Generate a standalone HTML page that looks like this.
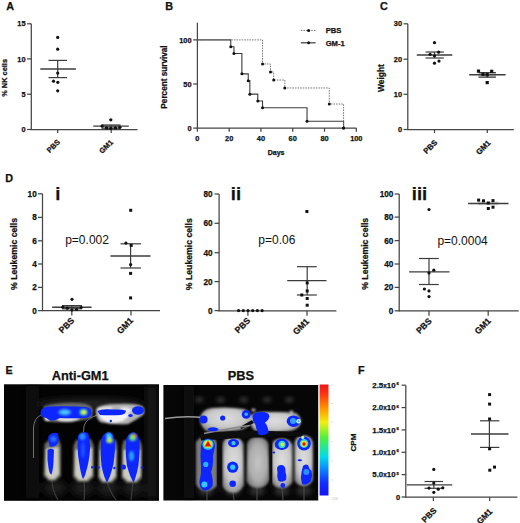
<!DOCTYPE html>
<html><head><meta charset="utf-8"><style>
html,body{margin:0;padding:0;background:#fff;}
svg{display:block;font-family:"Liberation Sans",sans-serif;}
text[font-weight="bold"]{stroke:#111;stroke-width:0.25px;}
</style></head><body>
<svg width="520" height="523" viewBox="0 0 520 523">
<rect width="520" height="523" fill="#fff"/>
<text x="6.3" y="9.6" font-size="10.8" font-weight="bold" fill="#111">A</text>
<line x1="31.3" y1="23.8" x2="31.3" y2="130.05" stroke="#454545" stroke-width="1.25" />
<line x1="27.1" y1="23.8" x2="31.3" y2="23.8" stroke="#454545" stroke-width="1.25" />
<text x="25.5" y="26.464000000000002" font-size="7.4" text-anchor="end" font-weight="bold" fill="#111" >15</text>
<line x1="27.1" y1="58.9" x2="31.3" y2="58.9" stroke="#454545" stroke-width="1.25" />
<text x="25.5" y="61.564" font-size="7.4" text-anchor="end" font-weight="bold" fill="#111" >10</text>
<line x1="27.1" y1="94.2" x2="31.3" y2="94.2" stroke="#454545" stroke-width="1.25" />
<text x="25.5" y="96.864" font-size="7.4" text-anchor="end" font-weight="bold" fill="#111" >5</text>
<line x1="27.1" y1="129.5" x2="31.3" y2="129.5" stroke="#454545" stroke-width="1.25" />
<text x="25.5" y="132.164" font-size="7.4" text-anchor="end" font-weight="bold" fill="#111" >0</text>
<line x1="30.75" y1="129.5" x2="137.5" y2="129.5" stroke="#454545" stroke-width="1.25" />
<line x1="57.7" y1="129.5" x2="57.7" y2="133.1" stroke="#454545" stroke-width="1.25" />
<line x1="111.2" y1="129.5" x2="111.2" y2="133.1" stroke="#454545" stroke-width="1.25" />
<text transform="translate(4.6,77.9) rotate(-90)" font-size="7.4" text-anchor="middle" font-weight="bold" fill="#111" dy="2.66">% NK cells</text>
<text transform="translate(53.2,146.0) rotate(-45)" font-size="7.4" text-anchor="middle" font-weight="bold" fill="#111" dy="2.66">PBS</text>
<text transform="translate(106.0,146.5) rotate(-45)" font-size="7.4" text-anchor="middle" font-weight="bold" fill="#111" dy="2.66">GM1</text>
<line x1="40.3" y1="69.0" x2="75.9" y2="69.0" stroke="#3c3c3c" stroke-width="1.35" />
<line x1="48.5" y1="60.4" x2="67.0" y2="60.4" stroke="#3c3c3c" stroke-width="1.2" />
<line x1="48.5" y1="77.6" x2="67.0" y2="77.6" stroke="#3c3c3c" stroke-width="1.2" />
<line x1="57.7" y1="60.4" x2="57.7" y2="77.6" stroke="#3c3c3c" stroke-width="1.2" />
<circle cx="57.7" cy="37.4" r="1.6" fill="#111"/>
<circle cx="57.7" cy="49.2" r="1.6" fill="#111"/>
<circle cx="57.7" cy="73.1" r="1.6" fill="#111"/>
<circle cx="53.5" cy="81.2" r="1.6" fill="#111"/>
<circle cx="57.8" cy="82.3" r="1.6" fill="#111"/>
<circle cx="57.7" cy="90.8" r="1.6" fill="#111"/>
<rect x="101.5" y="124.8" width="19" height="3.6" fill="#c4c4c4"/>
<line x1="93.2" y1="126.1" x2="128.8" y2="126.1" stroke="#3c3c3c" stroke-width="1.35" />
<line x1="101.5" y1="125.0" x2="120.5" y2="125.0" stroke="#3c3c3c" stroke-width="1.2" />
<line x1="101.5" y1="128.2" x2="120.5" y2="128.2" stroke="#3c3c3c" stroke-width="1.2" />
<line x1="111.0" y1="125.0" x2="111.0" y2="128.2" stroke="#3c3c3c" stroke-width="1.2" />
<circle cx="110.8" cy="119.8" r="1.65" fill="#111"/>
<circle cx="102.1" cy="126.1" r="1.65" fill="#111"/>
<circle cx="106.6" cy="127.9" r="1.65" fill="#111"/>
<circle cx="110.8" cy="128.3" r="1.65" fill="#111"/>
<circle cx="115.4" cy="127.9" r="1.65" fill="#111"/>
<circle cx="119.9" cy="127.3" r="1.65" fill="#111"/>
<text x="165.3" y="9.5" font-size="10.8" font-weight="bold" fill="#111">B</text>
<line x1="197.4" y1="22.7" x2="197.4" y2="128.65" stroke="#454545" stroke-width="1.25" />
<line x1="193.20000000000002" y1="39.89999999999999" x2="197.4" y2="39.89999999999999" stroke="#454545" stroke-width="1.25" />
<text x="191.60000000000002" y="42.56399999999999" font-size="7.4" text-anchor="end" font-weight="bold" fill="#111" >100</text>
<line x1="193.20000000000002" y1="84.0" x2="197.4" y2="84.0" stroke="#454545" stroke-width="1.25" />
<text x="191.60000000000002" y="86.664" font-size="7.4" text-anchor="end" font-weight="bold" fill="#111" >50</text>
<line x1="193.20000000000002" y1="128.1" x2="197.4" y2="128.1" stroke="#454545" stroke-width="1.25" />
<text x="191.60000000000002" y="130.76399999999998" font-size="7.4" text-anchor="end" font-weight="bold" fill="#111" >0</text>
<line x1="196.85" y1="128.1" x2="356.4" y2="128.1" stroke="#454545" stroke-width="1.25" />
<line x1="197.4" y1="128.1" x2="197.4" y2="131.7" stroke="#454545" stroke-width="1.25" />
<line x1="229.18" y1="128.1" x2="229.18" y2="131.7" stroke="#454545" stroke-width="1.25" />
<line x1="260.96000000000004" y1="128.1" x2="260.96000000000004" y2="131.7" stroke="#454545" stroke-width="1.25" />
<line x1="292.74" y1="128.1" x2="292.74" y2="131.7" stroke="#454545" stroke-width="1.25" />
<line x1="324.52" y1="128.1" x2="324.52" y2="131.7" stroke="#454545" stroke-width="1.25" />
<line x1="356.3" y1="128.1" x2="356.3" y2="131.7" stroke="#454545" stroke-width="1.25" />
<text x="197.4" y="140.6" font-size="7.4" text-anchor="middle" font-weight="bold" fill="#111" >0</text>
<text x="229.18" y="140.6" font-size="7.4" text-anchor="middle" font-weight="bold" fill="#111" >20</text>
<text x="260.96000000000004" y="140.6" font-size="7.4" text-anchor="middle" font-weight="bold" fill="#111" >40</text>
<text x="292.74" y="140.6" font-size="7.4" text-anchor="middle" font-weight="bold" fill="#111" >60</text>
<text x="324.52" y="140.6" font-size="7.4" text-anchor="middle" font-weight="bold" fill="#111" >80</text>
<text x="356.3" y="140.6" font-size="7.4" text-anchor="middle" font-weight="bold" fill="#111" >100</text>
<text x="276.1" y="154.6" font-size="7.0" text-anchor="middle" font-weight="bold" fill="#111" >Days</text>
<text transform="translate(164.2,77.0) rotate(-90)" font-size="8.2" text-anchor="middle" font-weight="bold" fill="#111" dy="2.95">Percent survival</text>
<path d="M197.40,39.90 H230.77 V46.69 H233.95 V53.48 H241.89 V73.86 H248.25 V80.65 H249.84 V94.14 H257.78 V100.93 H262.55 V107.73 H307.04 V121.31 H343.59 V128.10" fill="none" stroke="#3c3c3c" stroke-width="1.1"/>
<path d="M197.40,39.90 H262.55 V63.98 H270.49 V72.00 H273.67 V80.03 H284.80 V87.97 H329.29 V104.02 H343.59 V128.10" fill="none" stroke="#7a7a7a" stroke-width="1.0" stroke-dasharray="1.6,1.0"/>
<circle cx="230.769" cy="46.6914" r="1.5" fill="#111"/>
<circle cx="233.947" cy="53.4828" r="1.5" fill="#111"/>
<circle cx="241.892" cy="73.857" r="1.5" fill="#111"/>
<circle cx="248.248" cy="80.6484" r="1.5" fill="#111"/>
<circle cx="249.837" cy="94.143" r="1.5" fill="#111"/>
<circle cx="257.782" cy="100.9344" r="1.5" fill="#111"/>
<circle cx="262.549" cy="107.72579999999999" r="1.5" fill="#111"/>
<circle cx="307.041" cy="121.3086" r="1.5" fill="#111"/>
<circle cx="343.58799999999997" cy="128.1" r="1.5" fill="#111"/>
<circle cx="262.549" cy="63.978599999999986" r="1.5" fill="#111"/>
<circle cx="270.494" cy="72.00479999999999" r="1.5" fill="#111"/>
<circle cx="273.672" cy="80.03099999999999" r="1.5" fill="#111"/>
<circle cx="284.795" cy="87.969" r="1.5" fill="#111"/>
<circle cx="329.28700000000003" cy="104.0214" r="1.5" fill="#111"/>
<circle cx="343.58799999999997" cy="128.1" r="1.5" fill="#111"/>
<line x1="300.8" y1="30.4" x2="315.6" y2="30.4" stroke="#7a7a7a" stroke-width="1" stroke-dasharray="1.6,1.0"/>
<circle cx="308.6" cy="30.4" r="1.5" fill="#111"/>
<line x1="300.8" y1="42.8" x2="315.6" y2="42.8" stroke="#3c3c3c" stroke-width="1.2" />
<circle cx="308.6" cy="42.8" r="1.5" fill="#111"/>
<text x="325.7" y="33.2" font-size="7.6" text-anchor="start" font-weight="bold" fill="#111" >PBS</text>
<text x="325.7" y="45.5" font-size="7.6" text-anchor="start" font-weight="bold" fill="#111" >GM-1</text>
<text x="379.9" y="9.7" font-size="10.8" font-weight="bold" fill="#111">C</text>
<line x1="407.8" y1="23.8" x2="407.8" y2="130.05" stroke="#454545" stroke-width="1.25" />
<line x1="403.6" y1="23.8" x2="407.8" y2="23.8" stroke="#454545" stroke-width="1.25" />
<text x="402.0" y="26.464000000000002" font-size="7.4" text-anchor="end" font-weight="bold" fill="#111" >30</text>
<line x1="403.6" y1="59.2" x2="407.8" y2="59.2" stroke="#454545" stroke-width="1.25" />
<text x="402.0" y="61.864000000000004" font-size="7.4" text-anchor="end" font-weight="bold" fill="#111" >20</text>
<line x1="403.6" y1="94.3" x2="407.8" y2="94.3" stroke="#454545" stroke-width="1.25" />
<text x="402.0" y="96.964" font-size="7.4" text-anchor="end" font-weight="bold" fill="#111" >10</text>
<line x1="403.6" y1="129.5" x2="407.8" y2="129.5" stroke="#454545" stroke-width="1.25" />
<text x="402.0" y="132.164" font-size="7.4" text-anchor="end" font-weight="bold" fill="#111" >0</text>
<line x1="407.25" y1="129.5" x2="513.8" y2="129.5" stroke="#454545" stroke-width="1.25" />
<line x1="434.5" y1="129.5" x2="434.5" y2="133.1" stroke="#454545" stroke-width="1.25" />
<line x1="487.3" y1="129.5" x2="487.3" y2="133.1" stroke="#454545" stroke-width="1.25" />
<text transform="translate(380.8,78.1) rotate(-90)" font-size="8.4" text-anchor="middle" font-weight="bold" fill="#111" dy="3.02">Weight</text>
<text transform="translate(430.2,146.7) rotate(-45)" font-size="7.8" text-anchor="middle" font-weight="bold" fill="#111" dy="2.81">PBS</text>
<text transform="translate(483.2,147.3) rotate(-45)" font-size="7.8" text-anchor="middle" font-weight="bold" fill="#111" dy="2.81">GM1</text>
<line x1="416.8" y1="55.0" x2="452.3" y2="55.0" stroke="#3c3c3c" stroke-width="1.35" />
<line x1="425.6" y1="52.0" x2="443.8" y2="52.0" stroke="#3c3c3c" stroke-width="1.2" />
<line x1="425.6" y1="58.0" x2="443.8" y2="58.0" stroke="#3c3c3c" stroke-width="1.2" />
<line x1="434.5" y1="52.0" x2="434.5" y2="58.0" stroke="#3c3c3c" stroke-width="1.2" />
<circle cx="434.5" cy="42.7" r="1.6" fill="#111"/>
<circle cx="430.1" cy="54.3" r="1.6" fill="#111"/>
<circle cx="438.6" cy="52.2" r="1.6" fill="#111"/>
<circle cx="434.5" cy="55.8" r="1.6" fill="#111"/>
<circle cx="434.5" cy="63.2" r="1.6" fill="#111"/>
<circle cx="439" cy="61.1" r="1.6" fill="#111"/>
<rect x="478.5" y="72.6" width="17.4" height="4.4" fill="#cdcdcd"/>
<line x1="469.2" y1="74.7" x2="505.6" y2="74.7" stroke="#3c3c3c" stroke-width="1.35" />
<line x1="478.5" y1="72.6" x2="495.9" y2="72.6" stroke="#3c3c3c" stroke-width="1.2" />
<line x1="478.5" y1="77.2" x2="495.9" y2="77.2" stroke="#3c3c3c" stroke-width="1.2" />
<line x1="487.2" y1="72.6" x2="487.2" y2="77.2" stroke="#3c3c3c" stroke-width="1.2" />
<rect x="476.90" y="69.50" width="3.2" height="3.2" fill="#111"/>
<rect x="481.40" y="72.70" width="3.2" height="3.2" fill="#111"/>
<rect x="485.60" y="73.10" width="3.2" height="3.2" fill="#111"/>
<rect x="490.10" y="69.70" width="3.2" height="3.2" fill="#111"/>
<rect x="485.60" y="81.00" width="3.2" height="3.2" fill="#111"/>
<text x="5.3" y="181.6" font-size="10.8" font-weight="bold" fill="#111">D</text>
<line x1="42.5" y1="193.8" x2="42.5" y2="311.15000000000003" stroke="#454545" stroke-width="1.25" />
<line x1="38.0" y1="193.8" x2="42.5" y2="193.8" stroke="#454545" stroke-width="1.25" />
<text x="36.7" y="196.752" font-size="8.2" text-anchor="end" font-weight="bold" fill="#111" >10</text>
<line x1="38.0" y1="217.4" x2="42.5" y2="217.4" stroke="#454545" stroke-width="1.25" />
<text x="36.7" y="220.352" font-size="8.2" text-anchor="end" font-weight="bold" fill="#111" >8</text>
<line x1="38.0" y1="240.8" x2="42.5" y2="240.8" stroke="#454545" stroke-width="1.25" />
<text x="36.7" y="243.752" font-size="8.2" text-anchor="end" font-weight="bold" fill="#111" >6</text>
<line x1="38.0" y1="264.0" x2="42.5" y2="264.0" stroke="#454545" stroke-width="1.25" />
<text x="36.7" y="266.952" font-size="8.2" text-anchor="end" font-weight="bold" fill="#111" >4</text>
<line x1="38.0" y1="287.4" x2="42.5" y2="287.4" stroke="#454545" stroke-width="1.25" />
<text x="36.7" y="290.352" font-size="8.2" text-anchor="end" font-weight="bold" fill="#111" >2</text>
<line x1="38.0" y1="310.6" x2="42.5" y2="310.6" stroke="#454545" stroke-width="1.25" />
<text x="36.7" y="313.552" font-size="8.2" text-anchor="end" font-weight="bold" fill="#111" >0</text>
<line x1="41.95" y1="310.6" x2="160.0" y2="310.6" stroke="#454545" stroke-width="1.25" />
<line x1="71.8" y1="310.6" x2="71.8" y2="315.6" stroke="#454545" stroke-width="1.25" />
<line x1="131.0" y1="310.6" x2="131.0" y2="315.6" stroke="#454545" stroke-width="1.25" />
<text x="55.2" y="199.5" font-size="18.5" font-weight="bold" fill="#111">i</text>
<text x="65.2" y="244.2" font-size="12.0" text-anchor="start" font-weight="normal" fill="#111" >p=0.002</text>
<text transform="translate(13.5,254.0) rotate(-90)" font-size="8.7" text-anchor="middle" font-weight="bold" fill="#111" dy="3.13">% Leukemic cells</text>
<text transform="translate(66.4,325.3) rotate(-45)" font-size="8.7" text-anchor="middle" font-weight="bold" fill="#111" dy="3.13">PBS</text>
<text transform="translate(124.9,325.6) rotate(-45)" font-size="8.7" text-anchor="middle" font-weight="bold" fill="#111" dy="3.13">GM1</text>
<rect x="62" y="305.4" width="20" height="3.4" fill="#c4c4c4"/>
<line x1="52.2" y1="307.2" x2="91.6" y2="307.2" stroke="#3c3c3c" stroke-width="1.35" />
<line x1="62" y1="305.6" x2="82" y2="305.6" stroke="#3c3c3c" stroke-width="1.2" />
<line x1="62" y1="308.8" x2="82" y2="308.8" stroke="#3c3c3c" stroke-width="1.2" />
<line x1="71.9" y1="305.6" x2="71.9" y2="308.8" stroke="#3c3c3c" stroke-width="1.2" />
<circle cx="72.0" cy="299.3" r="1.6" fill="#111"/>
<circle cx="62.8" cy="307.2" r="1.6" fill="#111"/>
<circle cx="67.3" cy="308.2" r="1.6" fill="#111"/>
<circle cx="71.9" cy="310.0" r="1.6" fill="#111"/>
<circle cx="76.5" cy="309.5" r="1.6" fill="#111"/>
<circle cx="81.2" cy="307.5" r="1.6" fill="#111"/>
<line x1="110.5" y1="256.0" x2="150.5" y2="256.0" stroke="#3c3c3c" stroke-width="1.35" />
<line x1="120.5" y1="243.8" x2="141.0" y2="243.8" stroke="#3c3c3c" stroke-width="1.2" />
<line x1="120.5" y1="268.0" x2="141.0" y2="268.0" stroke="#3c3c3c" stroke-width="1.2" />
<line x1="130.6" y1="243.8" x2="130.6" y2="268.0" stroke="#3c3c3c" stroke-width="1.2" />
<rect x="129.20" y="208.80" width="3.0" height="3.0" fill="#111"/>
<circle cx="125.9" cy="243.1" r="1.6" fill="#111"/>
<rect x="129.70" y="243.90" width="3.0" height="3.0" fill="#111"/>
<circle cx="130.6" cy="264.6" r="1.6" fill="#111"/>
<rect x="129.10" y="271.90" width="3.0" height="3.0" fill="#111"/>
<rect x="129.10" y="296.40" width="3.0" height="3.0" fill="#111"/>
<line x1="219.1" y1="194.0" x2="219.1" y2="311.15000000000003" stroke="#454545" stroke-width="1.25" />
<line x1="214.6" y1="194.0" x2="219.1" y2="194.0" stroke="#454545" stroke-width="1.25" />
<text x="212.5" y="196.952" font-size="8.2" text-anchor="end" font-weight="bold" fill="#111" >80</text>
<line x1="214.6" y1="223.3" x2="219.1" y2="223.3" stroke="#454545" stroke-width="1.25" />
<text x="212.5" y="226.252" font-size="8.2" text-anchor="end" font-weight="bold" fill="#111" >60</text>
<line x1="214.6" y1="252.7" x2="219.1" y2="252.7" stroke="#454545" stroke-width="1.25" />
<text x="212.5" y="255.652" font-size="8.2" text-anchor="end" font-weight="bold" fill="#111" >40</text>
<line x1="214.6" y1="281.6" x2="219.1" y2="281.6" stroke="#454545" stroke-width="1.25" />
<text x="212.5" y="284.552" font-size="8.2" text-anchor="end" font-weight="bold" fill="#111" >20</text>
<line x1="214.6" y1="310.6" x2="219.1" y2="310.6" stroke="#454545" stroke-width="1.25" />
<text x="212.5" y="313.552" font-size="8.2" text-anchor="end" font-weight="bold" fill="#111" >0</text>
<line x1="218.54999999999998" y1="310.8" x2="336.4" y2="310.8" stroke="#454545" stroke-width="1.25" />
<line x1="247.9" y1="310.8" x2="247.9" y2="315.8" stroke="#454545" stroke-width="1.25" />
<line x1="307.0" y1="310.8" x2="307.0" y2="315.8" stroke="#454545" stroke-width="1.25" />
<text x="230.8" y="199.5" font-size="18.5" font-weight="bold" fill="#111">ii</text>
<text x="258.3" y="243.8" font-size="12.0" text-anchor="start" font-weight="normal" fill="#111" >p=0.06</text>
<text transform="translate(189.0,254.2) rotate(-90)" font-size="8.7" text-anchor="middle" font-weight="bold" fill="#111" dy="3.13">% Leukemic cells</text>
<text transform="translate(242.4,325.3) rotate(-45)" font-size="8.7" text-anchor="middle" font-weight="bold" fill="#111" dy="3.13">PBS</text>
<text transform="translate(300.9,326.4) rotate(-45)" font-size="8.7" text-anchor="middle" font-weight="bold" fill="#111" dy="3.13">GM1</text>
<circle cx="238.6" cy="310.6" r="1.6" fill="#111"/>
<circle cx="243.29999999999998" cy="310.6" r="1.6" fill="#111"/>
<circle cx="248.0" cy="310.6" r="1.6" fill="#111"/>
<circle cx="252.7" cy="310.6" r="1.6" fill="#111"/>
<circle cx="257.4" cy="310.6" r="1.6" fill="#111"/>
<circle cx="262.1" cy="310.6" r="1.6" fill="#111"/>
<line x1="287.2" y1="280.6" x2="326.5" y2="280.6" stroke="#3c3c3c" stroke-width="1.35" />
<line x1="296.9" y1="266.7" x2="316.8" y2="266.7" stroke="#3c3c3c" stroke-width="1.2" />
<line x1="296.9" y1="295.0" x2="316.8" y2="295.0" stroke="#3c3c3c" stroke-width="1.2" />
<line x1="307.2" y1="266.7" x2="307.2" y2="295.0" stroke="#3c3c3c" stroke-width="1.2" />
<rect x="305.40" y="210.00" width="3.0" height="3.0" fill="#111"/>
<rect x="305.70" y="281.40" width="3.0" height="3.0" fill="#111"/>
<rect x="305.70" y="289.50" width="3.0" height="3.0" fill="#111"/>
<rect x="300.30" y="293.50" width="3.0" height="3.0" fill="#111"/>
<rect x="305.70" y="297.00" width="3.0" height="3.0" fill="#111"/>
<rect x="305.70" y="303.70" width="3.0" height="3.0" fill="#111"/>
<line x1="399.2" y1="194.0" x2="399.2" y2="311.35" stroke="#454545" stroke-width="1.25" />
<line x1="394.7" y1="194.0" x2="399.2" y2="194.0" stroke="#454545" stroke-width="1.25" />
<text x="393.4" y="196.952" font-size="8.2" text-anchor="end" font-weight="bold" fill="#111" >100</text>
<line x1="394.7" y1="217.1" x2="399.2" y2="217.1" stroke="#454545" stroke-width="1.25" />
<text x="393.4" y="220.052" font-size="8.2" text-anchor="end" font-weight="bold" fill="#111" >80</text>
<line x1="394.7" y1="240.6" x2="399.2" y2="240.6" stroke="#454545" stroke-width="1.25" />
<text x="393.4" y="243.552" font-size="8.2" text-anchor="end" font-weight="bold" fill="#111" >60</text>
<line x1="394.7" y1="264.0" x2="399.2" y2="264.0" stroke="#454545" stroke-width="1.25" />
<text x="393.4" y="266.952" font-size="8.2" text-anchor="end" font-weight="bold" fill="#111" >40</text>
<line x1="394.7" y1="287.4" x2="399.2" y2="287.4" stroke="#454545" stroke-width="1.25" />
<text x="393.4" y="290.352" font-size="8.2" text-anchor="end" font-weight="bold" fill="#111" >20</text>
<line x1="394.7" y1="310.8" x2="399.2" y2="310.8" stroke="#454545" stroke-width="1.25" />
<text x="393.4" y="313.752" font-size="8.2" text-anchor="end" font-weight="bold" fill="#111" >0</text>
<line x1="398.65" y1="310.8" x2="518.7" y2="310.8" stroke="#454545" stroke-width="1.25" />
<line x1="429.0" y1="310.8" x2="429.0" y2="315.8" stroke="#454545" stroke-width="1.25" />
<line x1="488.2" y1="310.8" x2="488.2" y2="315.8" stroke="#454545" stroke-width="1.25" />
<text x="411.8" y="199.5" font-size="18.5" font-weight="bold" fill="#111">iii</text>
<text x="437.4" y="244.5" font-size="12.0" text-anchor="start" font-weight="normal" fill="#111" >p=0.0004</text>
<text transform="translate(364.8,253.8) rotate(-90)" font-size="8.7" text-anchor="middle" font-weight="bold" fill="#111" dy="3.13">% Leukemic cells</text>
<text transform="translate(423.8,325.7) rotate(-45)" font-size="8.7" text-anchor="middle" font-weight="bold" fill="#111" dy="3.13">PBS</text>
<text transform="translate(482.6,326.0) rotate(-45)" font-size="8.7" text-anchor="middle" font-weight="bold" fill="#111" dy="3.13">GM1</text>
<line x1="409.1" y1="271.8" x2="449.5" y2="271.8" stroke="#3c3c3c" stroke-width="1.35" />
<line x1="419.0" y1="258.5" x2="438.8" y2="258.5" stroke="#3c3c3c" stroke-width="1.2" />
<line x1="419.0" y1="284.5" x2="438.8" y2="284.5" stroke="#3c3c3c" stroke-width="1.2" />
<line x1="429.0" y1="258.5" x2="429.0" y2="284.5" stroke="#3c3c3c" stroke-width="1.2" />
<circle cx="429" cy="209.5" r="1.6" fill="#111"/>
<circle cx="429" cy="272.9" r="1.6" fill="#111"/>
<circle cx="433.8" cy="270.2" r="1.6" fill="#111"/>
<circle cx="424.4" cy="289" r="1.6" fill="#111"/>
<circle cx="429" cy="290.9" r="1.6" fill="#111"/>
<circle cx="429" cy="296.6" r="1.6" fill="#111"/>
<rect x="478" y="201.6" width="20.5" height="3.6" fill="#cdcdcd"/>
<line x1="468.1" y1="203.5" x2="508.5" y2="203.5" stroke="#3c3c3c" stroke-width="1.3" />
<rect x="477.10" y="198.60" width="3.0" height="3.0" fill="#111"/>
<rect x="482.00" y="199.30" width="3.0" height="3.0" fill="#111"/>
<rect x="486.80" y="201.50" width="3.0" height="3.0" fill="#111"/>
<rect x="491.50" y="199.10" width="3.0" height="3.0" fill="#111"/>
<rect x="486.80" y="207.00" width="3.0" height="3.0" fill="#111"/>
<rect x="491.50" y="205.70" width="3.0" height="3.0" fill="#111"/>
<text x="5.4" y="374.0" font-size="10.8" font-weight="bold" fill="#111">E</text>
<text x="80.2" y="379.8" font-size="12.8" font-weight="bold" fill="#111" text-anchor="middle">Anti-GM1</text>
<text x="240.8" y="379.8" font-size="12.8" font-weight="bold" fill="#111" text-anchor="middle">PBS</text>
<defs>
<filter id="b04" x="-50%" y="-50%" width="200%" height="200%"><feGaussianBlur stdDeviation="0.45"/></filter>
<filter id="b07" x="-50%" y="-50%" width="200%" height="200%"><feGaussianBlur stdDeviation="0.7"/></filter>
<filter id="b1" x="-50%" y="-50%" width="200%" height="200%"><feGaussianBlur stdDeviation="1.1"/></filter>
<filter id="b2" x="-50%" y="-50%" width="200%" height="200%"><feGaussianBlur stdDeviation="2"/></filter>
<filter id="b3" x="-50%" y="-50%" width="200%" height="200%"><feGaussianBlur stdDeviation="3.5"/></filter>
<linearGradient id="cbar" x1="0" y1="1" x2="0" y2="0">
<stop offset="0" stop-color="#1414f0"/><stop offset="0.12" stop-color="#1030ff"/>
<stop offset="0.24" stop-color="#0a88ff"/><stop offset="0.35" stop-color="#00dce8"/>
<stop offset="0.52" stop-color="#50f040"/><stop offset="0.66" stop-color="#f0f010"/>
<stop offset="0.78" stop-color="#ff9800"/><stop offset="0.92" stop-color="#ff3010"/>
<stop offset="1" stop-color="#e81818"/></linearGradient>
<radialGradient id="gb" cx="0.5" cy="0.45" r="0.62"><stop offset="0" stop-color="#dedede"/><stop offset="0.6" stop-color="#c8c8c8"/><stop offset="1" stop-color="#828282"/></radialGradient>
<radialGradient id="gb2" cx="0.5" cy="0.5" r="0.62"><stop offset="0" stop-color="#c4c4c4"/><stop offset="0.6" stop-color="#acacac"/><stop offset="1" stop-color="#6a6a6a"/></radialGradient>
<radialGradient id="gw" cx="0.5" cy="0.55" r="0.6"><stop offset="0" stop-color="#e8e8e0"/><stop offset="0.55" stop-color="#d8d8cc"/><stop offset="1" stop-color="#707068"/></radialGradient>
<clipPath id="cl1"><rect x="4" y="384.3" width="155" height="116.5"/></clipPath>
<clipPath id="cl2"><rect x="163.4" y="385" width="154.8" height="115.5"/></clipPath>
</defs>
<rect x="4" y="384.3" width="155" height="116.5" fill="#030303"/>
<g clip-path="url(#cl1)">
<g filter="url(#b3)">
<rect x="26" y="386" width="13" height="112" fill="#101010"/>
<rect x="146" y="386" width="12" height="112" fill="#121212"/>
<ellipse cx="90" cy="404" rx="52" ry="5" fill="#262626"/>
<ellipse cx="55" cy="488" rx="11" ry="8" fill="#1c1c1c"/>
<ellipse cx="83" cy="488" rx="11" ry="8" fill="#1c1c1c"/>
<ellipse cx="108" cy="488" rx="11" ry="8" fill="#1c1c1c"/>
<ellipse cx="133" cy="488" rx="11" ry="8" fill="#1c1c1c"/>
</g>
<g stroke="#707070" stroke-width="1.0" fill="none" filter="url(#b04)">
<path d="M41,415 Q34,418 33.5,428 L33.5,458"/>
<path d="M97,415 Q86,419 84,426 L83.5,432"/>
</g>
<g stroke="#3a3a3a" stroke-width="1.2" fill="none" filter="url(#b04)">
<path d="M52,480 Q52,490 58,500"/><path d="M84,480 Q85,492 84,500"/><path d="M107,482 Q110,492 116,500"/><path d="M133,482 Q132,492 131,500"/>
</g>
<g filter="url(#b1)">
<path d="M44,406 Q60,402 80,403 Q92,404 93,410 L92,418 Q80,422 60,422 Q48,423 43,418 Z" fill="#6a6a6a"/>
<path d="M96,409 Q100,404 118,404 Q134,403 142,406 Q146,410 143,415 Q136,420 128,424 Q112,425 100,422 Q95,417 96,409 Z" fill="#b4b4b4"/>
<path d="M99,414 Q112,413 129,414 Q127,422 112,423 Q101,422 99,414 Z" fill="#f4f4f4"/>
<path d="M97.5,408 Q103,406 112,407 L112,410 Q104,410 98,411 Z" fill="#e0e0e0"/>
<path d="M120,408 Q128,406 132,410 Q130,414 124,414 Z" fill="#e8e8e8"/>
<path d="M56,418 Q66,417 80,417 Q78,422 66,422 Q58,422 56,418 Z" fill="#e0e0e0"/>
<ellipse cx="47.5" cy="419" rx="3" ry="2.2" fill="#e8e8e8"/>
</g>
<g filter="url(#b1)">
<path d="M44.5,444 L50,439 L59,439.5 L61,446 L61,476 L55,481 L49,481 L43.5,476 Z" fill="#6c6c64"/>
<path d="M73.5,446 L76,440 L91,439 L93.8,446 L93.8,477 L88,482 L78,482 L73,477 Z" fill="#6c6c64"/>
<path d="M98.5,446 L100,440 L116,440 L117.5,446 L117,478 L112,483 L102,483 L98,478 Z" fill="#6c6c64"/>
<path d="M122,446 L124,440 L140,440 L142,446 L142,478 L137,483 L127,483 L121.5,478 Z" fill="#6c6c64"/>
<path d="M46,449 L58.5,447 L59,474 L54.5,479 L49,479 L45.5,474 Z" fill="#ccccc0"/>
<path d="M75.5,450 L92,448 L92,475 L87,480 L79,480 L75,475 Z" fill="#ccccc0"/>
<path d="M100,450 L116,450 L115.5,476 L111,481 L103,481 L99.5,476 Z" fill="#ccccc0"/>
<path d="M123.5,450 L140.5,450 L140.5,476 L136,481 L128,481 L123,476 Z" fill="#ccccc0"/>
</g>
<g filter="url(#b07)" fill="#0c26ff">
<path d="M40.5,412 Q42,406 52,406.5 Q70,406 86,407 Q92,408 91.5,412.5 Q91,417 86,418 Q72,418.5 60,418 Q54,421 50,420.5 Q46,417 41,416.5 Z"/>
<path d="M97.5,411 Q102,408.5 112,409.5 Q122,409 126,410.5 Q126,414 121,415 Q110,415.5 100,415 Z"/>
<ellipse cx="138" cy="410.5" rx="6" ry="4.2"/>
<ellipse cx="130.5" cy="415.5" rx="2.2" ry="1.6"/>
<circle cx="110.8" cy="421" r="1.2"/>
<path d="M48.5,436 Q52,431.5 57.5,433 Q59.5,437 58,443 Q55,447.5 50,446.5 Q47.5,441 48.5,436 Z"/>
<path d="M47.5,450 Q51,447.5 54,450 L53.5,462 Q53,470 51.5,474.5 Q49.5,474 48.5,468 Q47,460 47.5,450 Z"/>
<path d="M78,436 Q82,430.5 88,433 Q90.5,440 90,450 Q89,462 86.5,470 Q84.5,478 83,479 Q81.5,476 80,468 Q77.5,456 77.5,445 Z"/>
<path d="M101,440 Q103,433 108.5,432 Q113.5,433 115,441 Q115.5,452 113.5,464 Q110,478 107,482.5 Q104,478 101.5,466 Q100,452 101,440 Z"/>
<path d="M126,440 Q128,433 133.5,432 Q138.5,433 139.5,441 Q140,452 138.5,465 Q136,478 133.5,482.5 Q130.5,478 127,466 Q125,452 126,440 Z"/>
<circle cx="92.2" cy="467.2" r="1.2"/>
<circle cx="98.6" cy="467.5" r="1.3"/><circle cx="114.4" cy="468" r="1.3"/>
<circle cx="123.4" cy="467" r="2.6"/><circle cx="142" cy="467.5" r="1.2"/>
</g>
<g filter="url(#b1)">
<ellipse cx="64.8" cy="412.3" rx="6.5" ry="3.2" fill="#3a9cff"/>
<ellipse cx="64.8" cy="412.3" rx="3.5" ry="1.8" fill="#50c8ff"/>
<ellipse cx="83.5" cy="412.3" rx="4" ry="3.2" fill="#40d890"/>
<ellipse cx="84" cy="412.3" rx="2.2" ry="2" fill="#e8f040"/>
<ellipse cx="53.5" cy="439" rx="3" ry="3" fill="#2a70ff"/>
<ellipse cx="82.5" cy="436.5" rx="3.2" ry="3.5" fill="#2a8cff"/>
<ellipse cx="109" cy="436" rx="3" ry="3" fill="#40c8ff"/>
<ellipse cx="109.5" cy="440.4" rx="3.2" ry="2.6" fill="#b0f040"/>
<ellipse cx="132.7" cy="437.5" rx="3.5" ry="3.5" fill="#60e070"/>
<ellipse cx="134.4" cy="435.8" rx="2" ry="2" fill="#f0c020"/>
<ellipse cx="134.6" cy="435.6" rx="1" ry="1" fill="#e04010"/>
<ellipse cx="131.5" cy="456" rx="2.5" ry="5" fill="#2aa0ff"/>
<ellipse cx="83" cy="450" rx="2" ry="8" fill="#1e50ff"/>
</g>
</g>
<rect x="163.4" y="385" width="154.8" height="115.5" fill="#060606"/>
<g clip-path="url(#cl2)">
<g filter="url(#b3)">
<rect x="184" y="386" width="10" height="112" fill="#101010"/>
</g>
<g filter="url(#b2)" fill="#3c3c3c">
<ellipse cx="199.2" cy="399.8" rx="4" ry="2.4"/>
<ellipse cx="220.7" cy="399.8" rx="4" ry="2.4"/>
<ellipse cx="243.8" cy="399.8" rx="4" ry="2.4"/>
<ellipse cx="267" cy="399.8" rx="4" ry="2.4"/>
<ellipse cx="289.2" cy="399.8" rx="4" ry="2.4"/>
</g>
<g stroke="#9a9a9a" stroke-width="1.4" fill="none" filter="url(#b04)">
<path d="M165,418.5 Q184,415.5 203,417.5"/>
</g>
<g filter="url(#b2)" fill="#2a2a2a">
<ellipse cx="206" cy="491" rx="8" ry="5"/>
<ellipse cx="233" cy="491" rx="8" ry="5"/>
<ellipse cx="257" cy="491" rx="8" ry="5"/>
<ellipse cx="282" cy="491" rx="8" ry="5"/>
<ellipse cx="304" cy="491" rx="8" ry="5"/>
</g>
<g stroke="#484848" stroke-width="1.1" fill="none" filter="url(#b04)">
<path d="M207,490 L207,500"/><path d="M233,493 L234,500"/><path d="M257,486 L257,500"/><path d="M282,487 L283,500"/><path d="M304,486 L304,500"/>
</g>
<g filter="url(#b1)">
<path d="M200,418 Q202,409 212,408 Q228,406.5 244,409 Q252,412 251,420 Q249,428 240,430 Q222,432.5 206,431 Q200,426 200,418 Z" fill="url(#gb)"/>
<ellipse cx="253.5" cy="410" rx="2" ry="1.6" fill="#c8c8c8"/><ellipse cx="291.5" cy="412" rx="1.8" ry="1.6" fill="#c8c8c8"/>
<path d="M249,416 Q256,411 270,412 Q286,411.5 296,413 Q302,417 300.5,424 Q298,430 288,431.5 Q270,433 256,432 Q249,426 249,416 Z" fill="url(#gb)"/>
<path d="M196,442 Q200,436 207,436 Q215,436 217,443 L217,486 Q212,491 206,491 Q198,490 196,484 Z" fill="#7a7a7a"/>
<path d="M222.5,444 Q224,437 232.5,437 Q241,437 243.5,444 L244,485 Q240,493 233,493 Q225,492 222.5,486 Z" fill="url(#gb)"/>
<path d="M247,444 Q249,437 257,437 Q266,437 268.5,444 L269.5,480 Q266,488 258,488 Q249,488 246.5,481 Z" fill="url(#gb2)"/>
<path d="M271.5,445 Q273,438.5 282,438.5 Q290,438.5 292.5,445 L292.5,482 Q289,488 282,488 Q274,488 271.5,482 Z" fill="url(#gb)"/>
<path d="M294.5,442 Q296,435.5 304,435.5 Q311,435.5 313,442 L313,480 Q310,486 304,486 Q297,486 294.5,480 Z" fill="url(#gb)"/>
</g>
<g filter="url(#b07)" fill="#0a0a0a">
<path d="M200,434 Q240,429.5 270,431 L301,432 L303,436.5 Q270,436 245,438 Q220,439 201,440.5 Z"/>
<path d="M252,420 L240,427 L241,429 L254,423 Z"/>
<rect x="217.2" y="440" width="4.6" height="52"/>
<rect x="269.6" y="442" width="2.6" height="46"/>
</g>
<path d="M204,433.5 Q225,429 250,425.5" stroke="#8a8a8a" stroke-width="1.3" fill="none" filter="url(#b04)"/>
<g filter="url(#b07)" fill="#0c26ff">
<circle cx="203.6" cy="419.4" r="4"/><circle cx="222.7" cy="418" r="2.6"/>
<ellipse cx="213" cy="429.3" rx="5.5" ry="2"/>
<circle cx="246.2" cy="414.4" r="4.4"/>
<path d="M252.5,416 Q255,411.5 262,412 Q269,412 269.5,416.5 Q268,421 265,422.5 Q268.5,427 268.5,433 Q263,436.5 258.5,434.5 Q256,429 255.5,425 Q252,421 252.5,416 Z"/>
<ellipse cx="293.5" cy="421.2" rx="6.8" ry="5.8"/>
<path d="M201,445 Q203,438.5 208,438.5 Q214.5,439 215,446 Q214,452 213,456 Q213.5,466 211,472 Q213.5,480 212.5,486 Q209,491 204,490.5 Q199,488 199.5,481 Q201.5,474 201,466 Q200,456 201,445 Z"/>
<ellipse cx="233.5" cy="443.1" rx="5.5" ry="4.2"/>
<circle cx="232.7" cy="467.2" r="5.6"/>
<circle cx="232.7" cy="483.7" r="3.3"/>
<ellipse cx="281.8" cy="444.4" rx="7" ry="5.6"/>
<path d="M277,468 Q278,464.5 282,465 Q286,466 285.5,472 Q287,476 286,480 Q282,483 278.5,481 Q276.5,476 277.5,473 Z"/>
<circle cx="282.8" cy="485.5" r="2.4"/>
<ellipse cx="273.8" cy="452.4" rx="1.4" ry="1"/>
<ellipse cx="304" cy="443.5" rx="6.8" ry="7"/>
<ellipse cx="299.8" cy="460.3" rx="2.2" ry="1"/>
<path d="M303,466 Q305,463.5 308,465 Q309,469 311.5,471 Q313,476 311,481 Q306,486.5 302,484 Q300,478 301.5,472 Z"/>
</g>
<g filter="url(#b07)">
<circle cx="246.2" cy="414.2" r="1.8" fill="#40b0ff"/>
<circle cx="293" cy="421" r="3" fill="#30a0ff"/>
<circle cx="298.5" cy="421.2" r="2.3" fill="#c0ffe0"/><circle cx="298.5" cy="421.2" r="1" fill="#40a0ff"/>
<ellipse cx="208" cy="444.5" rx="5.6" ry="5.2" fill="#30c8f0"/>
<ellipse cx="208" cy="444.2" rx="4.3" ry="3.9" fill="#90f060"/>
<ellipse cx="208" cy="444" rx="3.6" ry="3.3" fill="#f8e818"/>
<path d="M204.6,446.4 L208,440.8 L211.4,446.4 Z" fill="#e81010"/>
<circle cx="205.8" cy="464.4" r="2.6" fill="#2ab0ff"/>
<circle cx="204.4" cy="484.4" r="3" fill="#30c8ff"/>
<circle cx="233.5" cy="443.1" r="2.2" fill="#40c8d0"/>
<circle cx="232.7" cy="467.2" r="2.6" fill="#30c8ff"/>
<circle cx="282" cy="444.4" r="3.6" fill="#30d0d0"/>
<circle cx="282.5" cy="444.4" r="2" fill="#d0f040"/>
<circle cx="304" cy="443.5" r="4.4" fill="#30d8c0"/>
<circle cx="304" cy="443.8" r="3" fill="#f0e020"/>
<circle cx="304" cy="444" r="1.7" fill="#e01010"/>
<circle cx="302.7" cy="437.4" r="1.6" fill="#c0f0a0"/>
<circle cx="306.3" cy="472" r="3" fill="#2a90ff"/>
</g>
</g>
<rect x="319.6" y="384.5" width="8.9" height="111" fill="url(#cbar)"/>
<line x1="331" y1="385" x2="333" y2="385" stroke="#c8c8c8" stroke-width="0.6"/>
<line x1="331" y1="403.5" x2="333" y2="403.5" stroke="#c8c8c8" stroke-width="0.6"/>
<line x1="331" y1="422.2" x2="333" y2="422.2" stroke="#c8c8c8" stroke-width="0.6"/>
<line x1="331" y1="441.4" x2="333" y2="441.4" stroke="#c8c8c8" stroke-width="0.6"/>
<line x1="331" y1="460.7" x2="333" y2="460.7" stroke="#c8c8c8" stroke-width="0.6"/>
<line x1="331" y1="480" x2="333" y2="480" stroke="#c8c8c8" stroke-width="0.6"/>
<text x="332" y="500" font-size="3" fill="#b0b0b0">2.00</text>
<text x="358.1" y="374.0" font-size="10.8" font-weight="bold" fill="#111">F</text>
<line x1="405.8" y1="385.2" x2="405.8" y2="497.55" stroke="#454545" stroke-width="1.25" />
<line x1="401.6" y1="385.2" x2="405.8" y2="385.2" stroke="#454545" stroke-width="1.25" />
<text x="395.6" y="388.00" font-size="7.9" font-weight="bold" fill="#111" text-anchor="end">2.5<tspan font-size="6.4" font-weight="bold">x</tspan>10</text>
<text x="396.4" y="385.40" font-size="4.3" font-weight="bold" fill="#111">6</text>
<line x1="401.6" y1="407.56" x2="405.8" y2="407.56" stroke="#454545" stroke-width="1.25" />
<text x="395.6" y="410.36" font-size="7.9" font-weight="bold" fill="#111" text-anchor="end">2.0<tspan font-size="6.4" font-weight="bold">x</tspan>10</text>
<text x="396.4" y="407.76" font-size="4.3" font-weight="bold" fill="#111">6</text>
<line x1="401.6" y1="429.92" x2="405.8" y2="429.92" stroke="#454545" stroke-width="1.25" />
<text x="395.6" y="432.72" font-size="7.9" font-weight="bold" fill="#111" text-anchor="end">1.5<tspan font-size="6.4" font-weight="bold">x</tspan>10</text>
<text x="396.4" y="430.12" font-size="4.3" font-weight="bold" fill="#111">6</text>
<line x1="401.6" y1="452.28" x2="405.8" y2="452.28" stroke="#454545" stroke-width="1.25" />
<text x="395.6" y="455.08" font-size="7.9" font-weight="bold" fill="#111" text-anchor="end">1.0<tspan font-size="6.4" font-weight="bold">x</tspan>10</text>
<text x="396.4" y="452.48" font-size="4.3" font-weight="bold" fill="#111">6</text>
<line x1="401.6" y1="474.64" x2="405.8" y2="474.64" stroke="#454545" stroke-width="1.25" />
<text x="395.6" y="477.44" font-size="7.9" font-weight="bold" fill="#111" text-anchor="end">5.0<tspan font-size="6.4" font-weight="bold">x</tspan>10</text>
<text x="396.4" y="474.84" font-size="4.3" font-weight="bold" fill="#111">5</text>
<line x1="401.6" y1="497.0" x2="405.8" y2="497.0" stroke="#454545" stroke-width="1.25" />
<text x="400.2" y="499.7" font-size="7.4" text-anchor="end" font-weight="bold" fill="#111" >0</text>
<line x1="405.25" y1="497.0" x2="517.4" y2="497.0" stroke="#454545" stroke-width="1.25" />
<line x1="433.4" y1="497.0" x2="433.4" y2="501.0" stroke="#454545" stroke-width="1.25" />
<line x1="489.6" y1="497.0" x2="489.6" y2="501.0" stroke="#454545" stroke-width="1.25" />
<text transform="translate(353.3,442.5) rotate(-90)" font-size="8.1" text-anchor="middle" font-weight="bold" fill="#111" dy="2.92">CPM</text>
<text transform="translate(429.0,515.0) rotate(-45)" font-size="8.3" text-anchor="middle" font-weight="bold" fill="#111" dy="2.99">PBS</text>
<text transform="translate(484.4,516.4) rotate(-45)" font-size="8.3" text-anchor="middle" font-weight="bold" fill="#111" dy="2.99">GM1</text>
<line x1="406.8" y1="484.9" x2="452.3" y2="484.9" stroke="#3c3c3c" stroke-width="1.35" />
<line x1="424.6" y1="481.5" x2="443.0" y2="481.5" stroke="#3c3c3c" stroke-width="1.2" />
<line x1="424.6" y1="488.3" x2="443.0" y2="488.3" stroke="#3c3c3c" stroke-width="1.2" />
<line x1="433.8" y1="481.5" x2="433.8" y2="488.3" stroke="#3c3c3c" stroke-width="1.2" />
<circle cx="433.8" cy="469.4" r="1.6" fill="#111"/>
<circle cx="433.8" cy="483.1" r="1.6" fill="#111"/>
<circle cx="429.0" cy="488.1" r="1.6" fill="#111"/>
<circle cx="438.2" cy="489.2" r="1.6" fill="#111"/>
<circle cx="442.8" cy="487.8" r="1.6" fill="#111"/>
<circle cx="433.8" cy="492.3" r="1.6" fill="#111"/>
<line x1="471.0" y1="434.0" x2="508.5" y2="434.0" stroke="#3c3c3c" stroke-width="1.35" />
<line x1="480.0" y1="420.8" x2="499.4" y2="420.8" stroke="#3c3c3c" stroke-width="1.2" />
<line x1="480.0" y1="447.4" x2="499.4" y2="447.4" stroke="#3c3c3c" stroke-width="1.2" />
<line x1="489.4" y1="420.8" x2="489.4" y2="447.4" stroke="#3c3c3c" stroke-width="1.2" />
<rect x="488.10" y="393.10" width="3.0" height="3.0" fill="#111"/>
<rect x="488.10" y="402.60" width="3.0" height="3.0" fill="#111"/>
<rect x="488.10" y="417.50" width="3.0" height="3.0" fill="#111"/>
<rect x="488.10" y="447.30" width="3.0" height="3.0" fill="#111"/>
<rect x="488.30" y="468.70" width="3.0" height="3.0" fill="#111"/>
<rect x="493.00" y="465.60" width="3.0" height="3.0" fill="#111"/>
</svg>
</body></html>
